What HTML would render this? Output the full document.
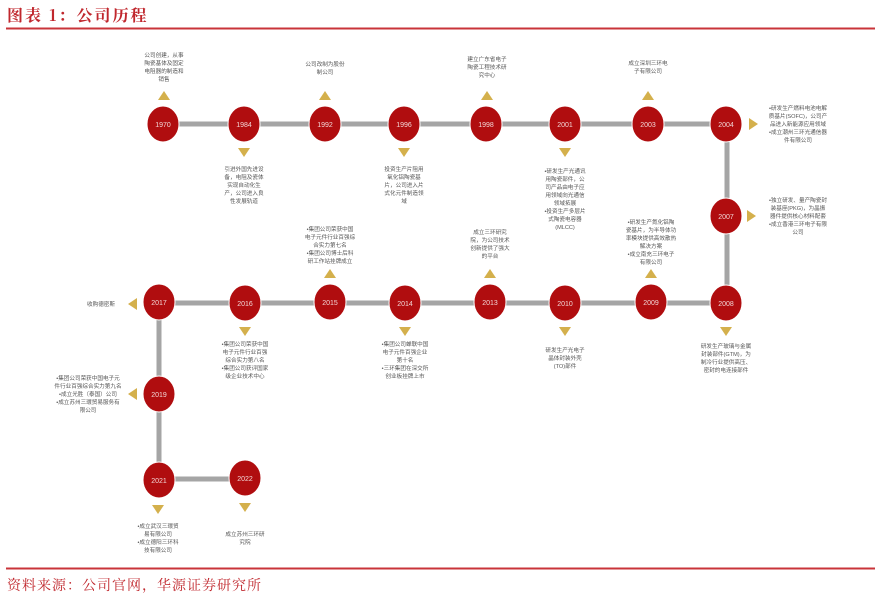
<!DOCTYPE html>
<html><head><meta charset="utf-8"><style>
html,body{margin:0;padding:0;background:#fff;}
svg{display:block;}
.t{font-family:"Liberation Sans","Noto Sans CJK SC",sans-serif;font-size:5.6px;fill:#555;text-anchor:middle;}
.y{font-family:"Liberation Sans",sans-serif;font-size:7px;fill:#f2d6d6;text-anchor:middle;}
.tri{fill:#d4b04c;}
</style></head><body>
<svg width="880" height="602" viewBox="0 0 880 602" xmlns="http://www.w3.org/2000/svg">
<text x="7" y="21" style="font-family:'Noto Serif CJK SC','Noto Sans CJK SC',serif;font-size:16px;font-weight:bold;fill:#c0272d;letter-spacing:2px">图表 1：公司历程</text>
<line x1="6" y1="28.5" x2="875" y2="28.5" stroke="#c9343a" stroke-width="2"/>
<line x1="6" y1="568.5" x2="875" y2="568.5" stroke="#c9343a" stroke-width="2"/>
<text x="7" y="590" style="font-family:'Noto Serif CJK SC','Noto Sans CJK SC',serif;font-size:14px;fill:#c0272d;letter-spacing:1px">资料来源：公司官网，华源证券研究所</text>

<g stroke="#a5a5a5" stroke-width="5" fill="none">
<line x1="163" y1="124" x2="727" y2="124"/>
<line x1="727" y1="124" x2="727" y2="303"/>
<line x1="159" y1="303" x2="727" y2="303"/>
<line x1="159" y1="303" x2="159" y2="480"/>
<line x1="160" y1="479" x2="245" y2="479"/>
</g>
<g fill="#b00d0f" stroke="#fff" stroke-width="1">
<ellipse cx="163" cy="124" rx="16" ry="18"/>
<ellipse cx="244" cy="124" rx="16" ry="18"/>
<ellipse cx="325" cy="124" rx="16" ry="18"/>
<ellipse cx="404" cy="124" rx="16" ry="18"/>
<ellipse cx="486" cy="124" rx="16" ry="18"/>
<ellipse cx="565" cy="124" rx="16" ry="18"/>
<ellipse cx="648" cy="124" rx="16" ry="18"/>
<ellipse cx="726" cy="124" rx="16" ry="18"/>
<ellipse cx="726" cy="216" rx="16" ry="18"/>
<ellipse cx="726" cy="303" rx="16" ry="18"/>
<ellipse cx="651" cy="302" rx="16" ry="18"/>
<ellipse cx="565" cy="303" rx="16" ry="18"/>
<ellipse cx="490" cy="302" rx="16" ry="18"/>
<ellipse cx="405" cy="303" rx="16" ry="18"/>
<ellipse cx="330" cy="302" rx="16" ry="18"/>
<ellipse cx="245" cy="303" rx="16" ry="18"/>
<ellipse cx="159" cy="302" rx="16" ry="18"/>
<ellipse cx="159" cy="394" rx="16" ry="18"/>
<ellipse cx="159" cy="480" rx="16" ry="18"/>
<ellipse cx="245" cy="478" rx="16" ry="18"/>
</g>
<g class="y">
<text x="163" y="127">1970</text><text x="244" y="127">1984</text><text x="325" y="127">1992</text><text x="404" y="127">1996</text>
<text x="486" y="127">1998</text><text x="565" y="127">2001</text><text x="648" y="127">2003</text><text x="726" y="127">2004</text>
<text x="726" y="219">2007</text><text x="726" y="306">2008</text><text x="651" y="305">2009</text><text x="565" y="306">2010</text>
<text x="490" y="305">2013</text><text x="405" y="306">2014</text><text x="330" y="305">2015</text><text x="245" y="306">2016</text>
<text x="159" y="305">2017</text><text x="159" y="397">2019</text><text x="159" y="483">2021</text><text x="245" y="481">2022</text>
</g>
<g class="tri">
<polygon points="158,100 170,100 164,91"/>
<polygon points="319,100 331,100 325,91"/>
<polygon points="481,100 493,100 487,91"/>
<polygon points="642,100 654,100 648,91"/>
<polygon points="238,148 250,148 244,157"/>
<polygon points="398,148 410,148 404,157"/>
<polygon points="559,148 571,148 565,157"/>
<polygon points="749,118 749,130 758,124"/>
<polygon points="747,210 747,222 756,216"/>
<polygon points="720,327 732,327 726,336"/>
<polygon points="645,278 657,278 651,269"/>
<polygon points="559,327 571,327 565,336"/>
<polygon points="484,278 496,278 490,269"/>
<polygon points="399,327 411,327 405,336"/>
<polygon points="324,278 336,278 330,269"/>
<polygon points="239,327 251,327 245,336"/>
<polygon points="137,298 137,310 128,304"/>
<polygon points="137,388 137,400 128,394"/>
<polygon points="152,505 164,505 158,514"/>
<polygon points="239,503 251,503 245,512"/>
</g>
<g class="t">
<text x="164" y="57">公司创建，从事</text><text x="164" y="65">陶瓷基体及固定</text><text x="164" y="73">电阻器的制造和</text><text x="164" y="81">销售</text>
<text x="325" y="66">公司改制为股份</text><text x="325" y="74">制公司</text>
<text x="487" y="61">建立广东省电子</text><text x="487" y="69">陶瓷工程技术研</text><text x="487" y="77">究中心</text>
<text x="648" y="65">成立深圳三环电</text><text x="648" y="73">子有限公司</text>
<text x="244" y="171">引进外国先进设</text><text x="244" y="179">备，电阻及瓷体</text><text x="244" y="187">实现自动化生</text><text x="244" y="195">产，公司进入良</text><text x="244" y="203">性发展轨道</text>
<text x="404" y="171">投资生产片阻用</text><text x="404" y="179">氧化铝陶瓷基</text><text x="404" y="187">片，公司进入片</text><text x="404" y="195">式化元件制造领</text><text x="404" y="203">域</text>
<text x="565" y="173">•研发生产光通讯</text><text x="565" y="181">用陶瓷部件，公</text><text x="565" y="189">司产品由电子应</text><text x="565" y="197">用领域向光通信</text><text x="565" y="205">领域拓展</text><text x="565" y="213">•投资生产多层片</text><text x="565" y="221">式陶瓷电容器</text><text x="565" y="229">(MLCC)</text>
<text x="798" y="110">•研发生产燃料电池电解</text><text x="798" y="118">质基片(SOFC)，公司产</text><text x="798" y="126">品进入新能源应用领域</text><text x="798" y="134">•成立潮州三环光通信器</text><text x="798" y="142">件有限公司</text>
<text x="798" y="202">•独立研发、量产陶瓷封</text><text x="798" y="210">装基座(PKG)，为晶振</text><text x="798" y="218">器件提供核心材料配套</text><text x="798" y="226">•成立香港三环电子有限</text><text x="798" y="234">公司</text>
<text x="726" y="348">研发生产玻璃与金属</text><text x="726" y="356">封装部件(GTM)，为</text><text x="726" y="364">制冷行业提供高压、</text><text x="726" y="372">密封的电连接部件</text>
<text x="651" y="224">•研发生产氮化铝陶</text><text x="651" y="232">瓷基片，为半导体功</text><text x="651" y="240">率模块提供高效散热</text><text x="651" y="248">解决方案</text><text x="651" y="256">•成立南充三环电子</text><text x="651" y="264">有限公司</text>
<text x="565" y="352">研发生产光电子</text><text x="565" y="360">晶体封装外壳</text><text x="565" y="368">(TO)部件</text>
<text x="490" y="234">成立三环研究</text><text x="490" y="242">院，为公司技术</text><text x="490" y="250">创新提供了强大</text><text x="490" y="258">的平台</text>
<text x="405" y="346">•集团公司蝉联中国</text><text x="405" y="354">电子元件百强企业</text><text x="405" y="362">第十名</text><text x="405" y="370">•三环集团在深交所</text><text x="405" y="378">创业板挂牌上市</text>
<text x="330" y="231">•集团公司荣获中国</text><text x="330" y="239">电子元件行业百强综</text><text x="330" y="247">合实力第七名</text><text x="330" y="255">•集团公司博士后科</text><text x="330" y="263">研工作站挂牌成立</text>
<text x="245" y="346">•集团公司荣获中国</text><text x="245" y="354">电子元件行业百强</text><text x="245" y="362">综合实力第八名</text><text x="245" y="370">•集团公司获评国家</text><text x="245" y="378">级企业技术中心</text>
<text x="101" y="306">收购德密斯</text>
<text x="88" y="380">•集团公司荣获中国电子元</text><text x="88" y="388">件行业百强综合实力第九名</text><text x="88" y="396">•成立光胜（泰国）公司</text><text x="88" y="404">•成立苏州三環贸易服务有</text><text x="88" y="412">限公司</text>
<text x="158" y="528">•成立武汉三環贸</text><text x="158" y="536">易有限公司</text><text x="158" y="544">•成立德阳三环科</text><text x="158" y="552">技有限公司</text>
<text x="245" y="536">成立苏州三环研</text><text x="245" y="544">究院</text>
</g>
</svg>
</body></html>
